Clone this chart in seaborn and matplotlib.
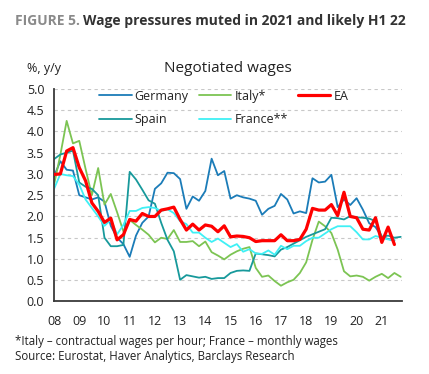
import numpy as np
import pandas as pd
import matplotlib
matplotlib.use("Agg")
import matplotlib.pyplot as plt
import seaborn as sns

# Quarterly data, starting 2008Q1
germany = [2.95, 3.3, 3.1, 3.08, 2.5, 2.45, 2.4, 2.45, 2.35, 1.78, 1.5, 1.35, 1.05, 1.55,
           1.85, 2.0, 2.65, 2.78, 3.03, 3.02, 2.88, 2.18, 2.47, 2.37, 2.6, 3.36, 2.97, 3.07,
           2.42, 2.5, 2.45, 2.42, 2.37, 2.04, 2.18, 2.25, 2.53, 2.4, 2.07, 2.12, 2.08, 2.9,
           2.8, 2.82, 2.98, 2.22, 2.4, 2.27, 2.43, 2.16, 1.84, 1.75, 1.52, 1.47, 1.43]
italy = [2.75, 3.45, 4.25, 3.72, 3.78, 3.12, 2.5, 3.14, 2.28, 2.53, 2.1, 1.65, 1.92, 1.8,
         1.69, 1.57, 1.39, 1.5, 1.47, 1.68, 1.4, 1.4, 1.42, 1.3, 1.41, 1.16, 1.08, 0.99,
         1.1, 1.18, 1.24, 1.28, 0.79, 0.58, 0.61, 0.48, 0.37, 0.45, 0.51, 0.67, 0.92, 1.45,
         1.88, 1.77, 1.61, 1.22, 0.71, 0.59, 0.61, 0.58, 0.49, 0.58, 0.65, 0.55, 0.67, 0.58]
ea = [2.99, 3.0, 3.54, 3.62, 3.15, 2.84, 2.32, 2.12, 1.86, 1.96, 1.45, 1.57, 1.93, 1.89,
      2.07, 2.0, 2.0, 2.15, 2.18, 2.22, 1.93, 1.68, 1.82, 1.68, 1.8, 1.77, 1.64, 1.78,
      1.52, 1.54, 1.53, 1.5, 1.41, 1.43, 1.43, 1.43, 1.57, 1.43, 1.43, 1.46, 1.7, 2.19,
      2.15, 2.15, 2.28, 2.02, 2.57, 2.0, 1.97, 1.7, 1.68, 1.97, 1.39, 1.75, 1.34]
spain = [3.35, 3.46, 3.5, 3.55, 2.8, 2.7, 2.65, 2.5, 1.5, 1.3, 1.3, 1.33, 3.05, 2.87,
         2.63, 2.38, 2.3, 1.85, 1.45, 1.18, 0.51, 0.62, 0.59, 0.56, 0.58, 0.53, 0.55, 0.55,
         0.67, 0.72, 0.73, 0.72, 1.13, 1.11, 1.09, 1.06, 1.22, 1.28, 1.36, 1.44, 1.52, 1.58,
         1.64, 1.7, 1.97, 1.96, 1.93, 2.01, 1.98, 1.97, 1.95, 1.89, 1.52, 1.55, 1.5, 1.52]
france = [2.65, 3.0, 2.97, 2.95, 2.75, 2.4, 2.2, 2.0, 1.78, 1.92, 1.58, 1.8, 2.13, 2.13,
          2.2, 2.22, 2.2, 2.13, 2.17, 2.08, 1.89, 1.82, 1.62, 1.62, 1.5, 1.4, 1.48, 1.38,
          1.28, 1.35, 1.17, 1.23, 1.13, 1.12, 1.2, 1.1, 1.31, 1.23, 1.31, 1.31, 1.42, 1.5,
          1.5, 1.6, 1.7, 1.77, 1.77, 1.77, 1.63, 1.46, 1.46, 1.54, 1.5, 1.46, 1.45]

series_names = ["Germany", "Italy*", "EA", "Spain", "France**"]
series_values = [germany, italy, ea, spain, france]
series_colors = ["#1b7cb8", "#7cc453", "#ff0000", "#17999b", "#3ff0f5"]
series_widths = [1.3, 1.3, 2.3, 1.3, 1.3]
start_year = 2008
year_ticks = list(range(2008, 2022))
year_labels = ["08", "09", "10", "11", "12", "13", "14", "15", "16", "17", "18", "19", "20", "21"]
y_ticks = [0.0, 0.5, 1.0, 1.5, 2.0, 2.5, 3.0, 3.5, 4.0, 4.5, 5.0]

rows = []
for name, vals in zip(series_names, series_values):
    for i, v in enumerate(vals):
        rows.append({"series": name, "t": start_year + i / 4.0, "value": v})
df = pd.DataFrame(rows)

sns.set_theme(style="white")
plt.rcParams["font.family"] = ["Open Sans", "DejaVu Sans"]

fig = plt.figure(figsize=(4.29, 3.74), dpi=100)
ax = fig.add_axes([0.126, 0.194, 0.811, 0.568])

for y in y_ticks:
    ax.axhline(y, color="#c8c8c8", lw=0.8, ls=(0, (3, 3)), zorder=0)

for name, col, lw in zip(series_names, series_colors, series_widths):
    sub = df[df["series"] == name]
    sns.lineplot(data=sub, x="t", y="value", ax=ax, color=col, lw=lw,
                 label=name, zorder=3 if name == "EA" else 2)

ax.set_xlim(2008, 2021.8)
ax.set_ylim(0, 5)
ax.set_xticks(year_ticks)
ax.set_xticklabels(year_labels)
ax.set_yticks(y_ticks)
ax.set_yticklabels([f"{v:.1f}" for v in y_ticks])
ax.set_xlabel("")
ax.set_ylabel("")
for s in ["top", "right"]:
    ax.spines[s].set_visible(False)
for s in ["left", "bottom"]:
    ax.spines[s].set_color("#3a3a3a")
    ax.spines[s].set_linewidth(1.3)
ax.tick_params(axis="both", direction="out", length=4, width=1.0, color="#3a3a3a",
               labelsize=9, labelcolor="#222222", pad=3)
ax.tick_params(axis="x", pad=6)

h, l = ax.get_legend_handles_labels()
hd = dict(zip(l, h))
order = ["Germany", "Spain", "Italy*", "France**", "EA"]
ax.legend([hd[k] for k in order], order, ncol=3, frameon=False, fontsize=9,
          loc="upper left", bbox_to_anchor=(0.115, 1.02), handlelength=2.6,
          handletextpad=0.25, columnspacing=0.8, labelspacing=0.85,
          borderaxespad=0, labelcolor="#222222")

ax.set_title("Negotiated wages", fontsize=11, color="#222222", pad=12)
fig.text(0.063, 0.80, "%, y/y", fontsize=9, color="#222222", ha="left", va="bottom")

t1 = fig.text(0.035, 0.944, "FIGURE 5.", fontsize=10, fontweight="bold",
              color="#8a8a8a", ha="left", va="center")
fig.canvas.draw()
bb = t1.get_window_extent()
x1 = fig.transFigure.inverted().transform((bb.x1, bb.y0))[0]
fig.text(x1 + 0.008, 0.944, "Wage pressures muted in 2021 and likely H1 22", fontsize=10,
         fontweight="bold", color="#333333", ha="left", va="center")

fig.text(0.035, 0.088, "*Italy \u2013 contractual wages per hour; France \u2013 monthly wages",
         fontsize=8.3, color="#222222", ha="left", va="center")
fig.text(0.035, 0.048, "Source: Eurostat, Haver Analytics, Barclays Research",
         fontsize=8.3, color="#222222", ha="left", va="center")

fig.savefig("out.png", dpi=100, facecolor="white")
